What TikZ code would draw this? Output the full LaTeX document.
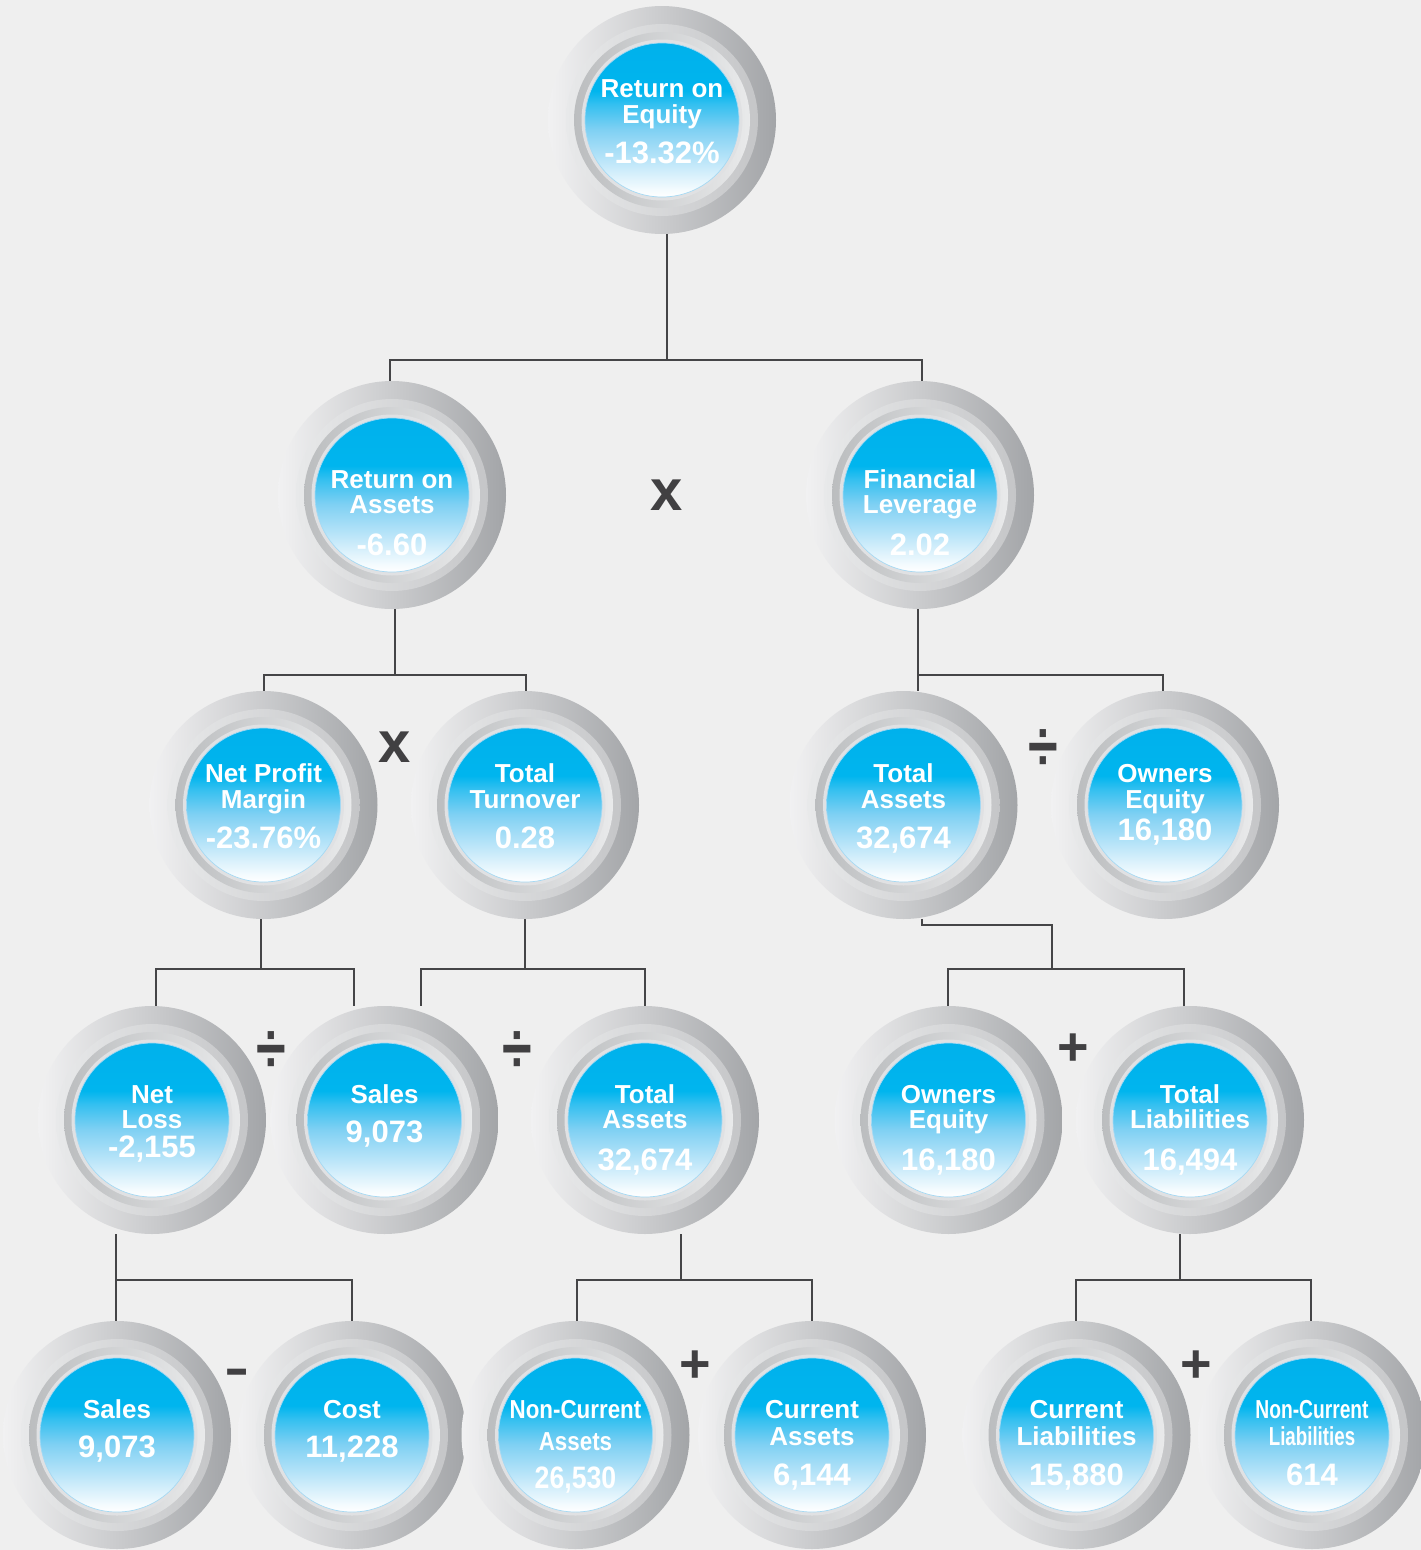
\documentclass[tikz,border=0pt]{standalone}
\usepackage{fontspec}
\usepackage{graphicx}
\setmainfont{Liberation Sans}
\definecolor{bgc}{HTML}{EFEFEF}
\definecolor{og1}{HTML}{F1F1F2}
\definecolor{og2}{HTML}{A3A5A8}
\definecolor{ra1}{HTML}{E8E9EA}
\definecolor{ra2}{HTML}{C5C6C8}
\definecolor{rb1}{HTML}{BBBDBF}
\definecolor{rb2}{HTML}{E9EAEB}
\definecolor{rc}{HTML}{E0E1E3}
\definecolor{bl0}{HTML}{00B1EC}
\definecolor{bl1}{HTML}{00B5EE}
\definecolor{bl2}{HTML}{35C0F0}
\definecolor{bl3}{HTML}{7FD0F3}
\definecolor{bl4}{HTML}{BDE6F9}
\definecolor{bl5}{HTML}{F4FBFE}
\definecolor{bledge}{HTML}{A5D9F3}
\definecolor{linec}{HTML}{454547}
\definecolor{opc}{HTML}{414042}
\pgfdeclarehorizontalshading{outerg}{100bp}{color(0bp)=(og1); color(25bp)=(og1); color(75bp)=(og2); color(100bp)=(og2)}
\pgfdeclarehorizontalshading{ringa}{100bp}{color(0bp)=(ra1); color(25bp)=(ra1); color(75bp)=(ra2); color(100bp)=(ra2)}
\pgfdeclarehorizontalshading{ringb}{100bp}{color(0bp)=(rb1); color(25bp)=(rb1); color(75bp)=(rb2); color(100bp)=(rb2)}
\pgfdeclareverticalshading{blueb}{100bp}{color(0bp)=(white); color(25bp)=(white); color(27.5bp)=(bl5); color(36.5bp)=(bl4); color(47bp)=(bl3); color(55bp)=(bl2); color(59.5bp)=(bl1); color(75bp)=(bl0); color(100bp)=(bl0)}
\pgfdeclarelayer{bgfill}
\pgfdeclarelayer{conn}
\pgfsetlayers{bgfill,conn,main}
\tikzset{
  outerdisk/.style={circle, minimum size=228pt, inner sep=0pt, shade, shading=outerg},
  lbl/.style={text=white, inner sep=0pt, anchor=base, font=\fontsize{26}{26}\bfseries\selectfont},
  num/.style={text=white, inner sep=0pt, anchor=base, font=\fontsize{31}{31}\bfseries\selectfont},
  conn/.style={draw=linec, line width=2.5pt},
  op/.style={text=opc, inner sep=0pt, font=\fontsize{54}{54}\bfseries\selectfont},
}
\newcommand\kball[3]{%
  \node[outerdisk] (#1) at (#2,#3) {};
  \path[shade, shading=ringa] (#2,#3) circle[radius=96pt];
  \path[shade, shading=ringb] (#2,#3) circle[radius=88pt];
  \fill[rc] (#2,#3) circle[radius=80.5pt];
  \path[shade, shading=blueb, draw=bledge, line width=0.7pt] (#2,#3) circle[radius=77pt];
}
\begin{document}
\begin{tikzpicture}[x=1pt, y=-1pt]
\useasboundingbox (0,0) rectangle (1421,1550);
\begin{pgfonlayer}{bgfill}
\fill[bgc] (0,0) rectangle (1421,1550);
\end{pgfonlayer}

% level 0
\kball{roe}{662}{120}
\node[lbl] (roe-a) at (662,97) {Return on};
\node[lbl] (roe-b) at (662,123) {Equity};
\node[num] (roe-v) at (662,163) {-13.32\%};
% level 1
\kball{roa}{392}{495}
\node[lbl] (roa-a) at (392,488) {Return on};
\node[lbl] (roa-b) at (392,513) {Assets};
\node[num] (roa-v) at (392,555) {-6.60};
\kball{fl}{920}{495}
\node[lbl] (fl-a) at (920,488) {Financial};
\node[lbl] (fl-b) at (920,513) {Leverage};
\node[num] (fl-v) at (920,555) {2.02};
% level 2
\kball{npm}{263.5}{805}
\node[lbl] (npm-a) at (263.5,782) {Net Profit};
\node[lbl] (npm-b) at (263.5,808) {Margin};
\node[num] (npm-v) at (263.5,848) {-23.76\%};
\kball{tt}{525}{805}
\node[lbl] (tt-a) at (525,782) {Total};
\node[lbl] (tt-b) at (525,808) {Turnover};
\node[num] (tt-v) at (525,848) {0.28};
\kball{ta2}{903.5}{805}
\node[lbl] (ta2-a) at (903.5,782) {Total};
\node[lbl] (ta2-b) at (903.5,808) {Assets};
\node[num] (ta2-v) at (903.5,848) {32,674};
\kball{oe2}{1165}{805}
\node[lbl] (oe2-a) at (1165,782) {Owners};
\node[lbl] (oe2-b) at (1165,808) {Equity};
\node[num] (oe2-v) at (1165,840) {16,180};
% level 3
\kball{nl}{152}{1120}
\node[lbl] (nl-a) at (152,1103) {Net};
\node[lbl] (nl-b) at (152,1128) {Loss};
\node[num] (nl-v) at (152,1157) {-2,155};
\kball{s3}{384.5}{1120}
\node[lbl] (s3-a) at (384.5,1103) {Sales};
\node[num] (s3-v) at (384.5,1142) {9,073};
\kball{ta3}{645}{1120}
\node[lbl] (ta3-a) at (645,1103) {Total};
\node[lbl] (ta3-b) at (645,1128) {Assets};
\node[num] (ta3-v) at (645,1170) {32,674};
\kball{oe3}{948.5}{1120}
\node[lbl] (oe3-a) at (948.5,1103) {Owners};
\node[lbl] (oe3-b) at (948.5,1128) {Equity};
\node[num] (oe3-v) at (948.5,1170) {16,180};
\kball{tl}{1190}{1120}
\node[lbl] (tl-a) at (1190,1103) {Total};
\node[lbl] (tl-b) at (1190,1128) {Liabilities};
\node[num] (tl-v) at (1190,1170) {16,494};
% level 4
\kball{s4}{117}{1435}
\node[lbl] (s4-a) at (117,1418) {Sales};
\node[num] (s4-v) at (117,1457) {9,073};
\kball{c4}{352}{1435}
\node[lbl] (c4-a) at (352,1418) {Cost};
\node[num] (c4-v) at (352,1457) {11,228};
\kball{nca}{575.5}{1435}
\node[lbl] (nca-a) at (575.5,1418) {\scalebox{0.86}[1]{Non-Current}};
\node[lbl] (nca-b) at (575.5,1450) {\scalebox{0.86}[1]{Assets}};
\node[num] (nca-v) at (575.5,1488) {\scalebox{0.86}[1]{26,530}};
\kball{ca}{812}{1435}
\node[lbl] (ca-a) at (812,1418) {Current};
\node[lbl] (ca-b) at (812,1445) {Assets};
\node[num] (ca-v) at (812,1485) {6,144};
\kball{cl}{1076.5}{1435}
\node[lbl] (cl-a) at (1076.5,1418) {Current};
\node[lbl] (cl-b) at (1076.5,1445) {Liabilities};
\node[num] (cl-v) at (1076.5,1485) {15,880};
\kball{ncl}{1312}{1435}
\node[lbl] (ncl-a) at (1312,1418) {\scalebox{0.74}[1]{Non-Current}};
\node[lbl] (ncl-b) at (1312,1445) {\scalebox{0.72}[1]{Liabilities}};
\node[num] (ncl-v) at (1312,1485) {614};

% operators
\node[op, font=\fontsize{58}{58}\bfseries\selectfont] (op1) at (667,495) {x};
\node[op, font=\fontsize{58}{58}\bfseries\selectfont] (op2) at (395,747) {x};
\node[op] (op3) at (1043,750) {\scalebox{1}[1.3]{÷}};
\node[op] (op4) at (271,1052) {\scalebox{1}[1.3]{÷}};
\node[op] (op5) at (517,1052) {\scalebox{1}[1.3]{÷}};
\node[op] (op6) at (1073,1050) {+};
\node[op, font=\fontsize{38}{38}\bfseries\selectfont] (op7) at (237.5,1379) {\scalebox{1}[1.6]{–}};
\node[op] (op8) at (695.5,1367) {+};
\node[op] (op9) at (1196.5,1367) {+};

% connectors
\begin{pgfonlayer}{conn}
\draw[conn] (roe.south -| 667,0) -- (667,360);
\draw[conn] (roa.north -| 390,0) |- (922,360) -- (fl.north -| 922,0);
\draw[conn] (roa.south -| 395,0) -- (395,675);
\draw[conn] (npm.north -| 264,0) |- (526,675) -- (tt.north -| 526,0);
\draw[conn] (fl.south -| 918,0) -- (918,675);
\draw[conn] (ta2.north -| 918,0) |- (1163,675) -- (oe2.north -| 1163,0);
\draw[conn] (npm.south -| 261,0) -- (261,969);
\draw[conn] (nl.north -| 156,0) |- (354,969) -- (s3.north -| 354,0);
\draw[conn] (tt.south -| 525,0) -- (525,969);
\draw[conn] (s3.north -| 421,0) |- (645,969) -- (ta3.north -| 645,0);
\draw[conn] (ta2.south -| 922,0) |- (1052,925) -- (1052,969);
\draw[conn] (oe3.north -| 948,0) |- (1184,969) -- (tl.north -| 1184,0);
\draw[conn] (nl.south -| 116,0) -- (116,1280);
\draw[conn] (s4.north -| 116,0) |- (352,1280) -- (c4.north -| 352,0);
\draw[conn] (ta3.south -| 681,0) -- (681,1280);
\draw[conn] (nca.north -| 577,0) |- (812,1280) -- (ca.north -| 812,0);
\draw[conn] (tl.south -| 1180,0) -- (1180,1280);
\draw[conn] (cl.north -| 1076,0) |- (1311,1280) -- (ncl.north -| 1311,0);
\end{pgfonlayer}
\end{tikzpicture}
\end{document}
